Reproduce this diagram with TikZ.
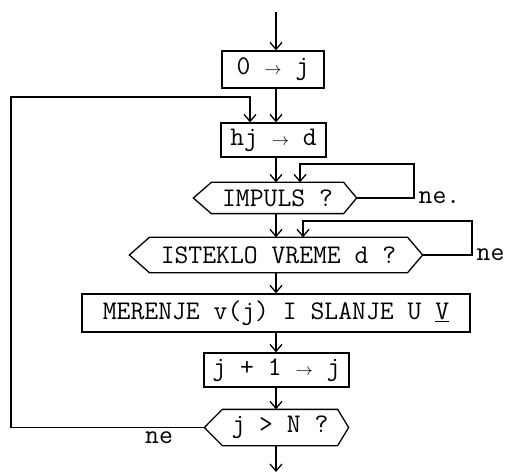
\documentclass[tikz,border=0pt]{standalone}
\usetikzlibrary{arrows.meta}
\begin{document}
\begin{tikzpicture}[x=1bp,y=-1bp, line width=1.3bp,
  font=\fontsize{27}{27}\selectfont\ttfamily,
  flow/.style={-{Straight Barb[length=7bp,width=12bp,line width=1.3bp]}},
  proc/.style={draw, rectangle, inner sep=0pt},
  dec/.style={rectangle, inner sep=0pt},
  lbl/.style={inner sep=0pt}]
\useasboundingbox (0,0) rectangle (505,473);
\newcommand{\arr}{{\fontsize{19}{19}\selectfont$\rightarrow$}}
% nodes
\node[proc, minimum width=102bp, minimum height=37bp] (b1) at (273,69.5) {0 \arr{} j};
\node[proc, minimum width=105bp, minimum height=34bp] (b2) at (273.5,140) {hj \arr{} d};
\node[dec, minimum width=131bp, minimum height=30bp] (h1) at (277.5,198) {IMPULS ?};
\node[dec, minimum width=257bp, minimum height=34bp] (h2) at (278.5,255) {ISTEKLO VREME d ?};
\node[proc, minimum width=388bp, minimum height=38bp] (b3) at (276,313) {MERENJE v(j) I SLANJE U \underline{V}};
\node[proc, minimum width=145bp, minimum height=34bp] (b4) at (276.5,370) {j + 1 \arr{} j};
\node[dec, minimum width=114bp, minimum height=35bp] (h3) at (280,427.5) {j > N ?};
% hexagon outlines
\draw (h1.north west) -- (h1.north east) -- ([xshift=13bp]h1.east) -- (h1.south east) -- (h1.south west) -- ([xshift=-18bp]h1.west) -- cycle;
\draw (h2.north west) -- (h2.north east) -- ([xshift=15bp]h2.east) -- (h2.south east) -- (h2.south west) -- ([xshift=-20bp]h2.west) -- cycle;
\draw (h3.north west) -- (h3.north east) -- ([xshift=11bp]h3.east) -- (h3.south east) -- (h3.south west) -- ([xshift=-18bp]h3.west) -- cycle;
% labels
\node[lbl, anchor=west] (ne1) at (418,198) {ne.};
\node[lbl, anchor=west] (ne2) at (476,255) {ne};
\node[lbl] (ne3) at (159,437.5) {ne};
% coordinates
\coordinate (trunk) at (276,0);
\coordinate (start) at (276,12);
\coordinate (finish) at (276,472);
\coordinate (l1r) at (414,164);
\coordinate (l1l) at (300,164);
\coordinate (l2r) at (472,221);
\coordinate (l2l) at (303,221);
\coordinate (l3t) at (11,97);
\coordinate (l3r) at (250,97);
% connectors
\draw[flow] (start) -- (b1.north -| start);
\draw[flow] (b1.south -| trunk) -- (b2.north -| trunk);
\draw[flow] (b2.south -| trunk) -- (h1.north -| trunk);
\draw[flow] (h1.south -| trunk) -- (h2.north -| trunk);
\draw[flow] (h2.south -| trunk) -- (b3.north -| trunk);
\draw[flow] (b3.south -| trunk) -- (b4.north -| trunk);
\draw[flow] (b4.south -| trunk) -- (h3.north -| trunk);
\draw[flow] (h3.south -| trunk) -- (finish);
\draw[flow] ([xshift=13bp]h1.east) -- (h1.east -| l1r) -- (l1r) -- (l1l) -- (h1.north -| l1l);
\draw[flow] ([xshift=15bp]h2.east) -- (h2.east -| l2r) -- (l2r) -- (l2l) -- (h2.north -| l2l);
\draw[flow] ([xshift=-18bp]h3.west) -- (h3.west -| l3t) -- (l3t) -- (l3r) -- (b2.north -| l3r);
\end{tikzpicture}
\end{document}
